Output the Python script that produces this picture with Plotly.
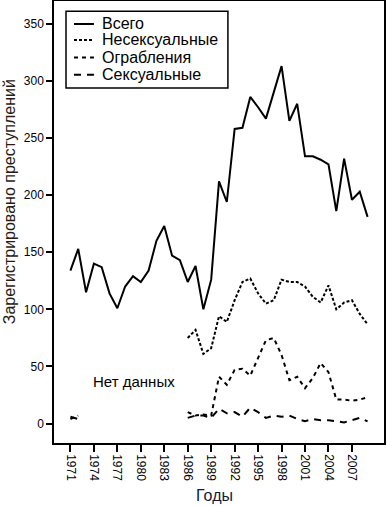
import plotly.graph_objects as go

years = list(range(1971, 2010))

total = [134, 153, 115, 140, 137, 114, 101, 120, 129, 124, 134, 160, 173,
         147, 143, 124, 138, 100, 126, 212, 194, 258, 259, 286, 277, 267,
         290, 313, 265, 280, 234, 234, 231, 227, 186, 232, 196, 203, 181]

N = None
nonsexual = [N] * 15 + [75, 82, 61, 66, 94, 89, 108, 124, 127, 114, 105, 108,
                        126, 124, 124, 120, 111, 106, 121, 100, 106, 108, 96, 87]

robbery = [4, 7] + [N] * 13 + [10, 7, 8, 7, 41, 34, 47, 48, 42, 57, 73, 75,
                               60, 38, 41, 31, 40, 53, 45, 21, 21, 20, 21, 23]

sexual = [6, 4] + [N] * 13 + [5, 7, 7, 5, 13, 9, 10, 6, 14, 10, 5, 7,
                              6, 7, 4, 2, 4, 3, 3, 2, 1, 3, 5, 2]

tick_years = list(range(1971, 2010, 3))
y_ticks = [0, 50, 100, 150, 200, 250, 300, 350]

series_names = ["Всего", "Несексуальные", "Ограбления", "Сексуальные"]
series_values = [total, nonsexual, robbery, sexual]
series_dash = ["solid", "3px,2px", "4px,4px", "7px,6px"]

fig = go.Figure()
for name, vals, dash in zip(series_names, series_values, series_dash):
    fig.add_trace(go.Scatter(
        x=years, y=vals, name=name, mode="lines",
        line=dict(color="black", width=2, dash=dash),
        connectgaps=False, showlegend=False,
    ))

font = "Liberation Sans, Arial, sans-serif"

# manual legend (box, line samples, labels) in paper coordinates
shapes = [dict(type="rect", xref="paper", yref="paper",
               x0=0.0364, x1=0.527, y0=0.803, y1=0.977,
               line=dict(color="black", width=1.5), fillcolor="white",
               layer="above")]
annotations = []
row_y = [0.948, 0.912, 0.872, 0.833]
for name, dash, ry in zip(series_names, series_dash, row_y):
    shapes.append(dict(type="line", xref="paper", yref="paper",
                       x0=0.0606, x1=0.121, y0=ry, y1=ry,
                       line=dict(color="black", width=2, dash=dash),
                       layer="above"))
    annotations.append(dict(text=name, xref="paper", yref="paper",
                            x=0.139, y=ry, xanchor="left", yanchor="middle",
                            showarrow=False,
                            font=dict(size=16, family=font, color="black")))

annotations += [
    dict(text="Зарегистрировано преступлений", textangle=-90,
         xref="paper", yref="paper", x=-0.136, y=0.545,
         xanchor="center", yanchor="middle", showarrow=False,
         font=dict(size=16, family=font, color="#2a1a10")),
    dict(text="Годы", xref="paper", yref="paper", x=0.485, y=-0.118,
         xanchor="center", yanchor="middle", showarrow=False,
         font=dict(size=16, family=font, color="#101a3a")),
    dict(text="Нет данных", xref="x", yref="y", x=1979.1, y=37,
         xanchor="center", yanchor="middle", showarrow=False,
         font=dict(size=15, family=font, color="black")),
]

fig.update_layout(
    width=387, height=506,
    margin=dict(l=54, r=3, t=1, b=63, autoexpand=False),
    paper_bgcolor="white", plot_bgcolor="white",
    font=dict(family=font, color="black", size=12),
    showlegend=False,
    xaxis=dict(
        range=[1968.9, 2011.1], tickvals=tick_years,
        ticktext=[str(y) for y in tick_years], tickangle=90,
        ticks="outside", ticklen=7, tickwidth=1.5, tickcolor="black",
        showline=True, linecolor="black", linewidth=1.5, mirror=True,
        showgrid=False, zeroline=False, tickfont=dict(size=12),
        automargin=False,
    ),
    yaxis=dict(
        range=[-17, 370], tickvals=y_ticks,
        ticks="outside", ticklen=6, tickwidth=1.5, tickcolor="black",
        showline=True, linecolor="black", linewidth=1.5, mirror=True,
        showgrid=False, zeroline=False, tickfont=dict(size=12),
        automargin=False,
    ),
    shapes=shapes,
    annotations=annotations,
)

fig.write_html("out.html", config={"displayModeBar": False},
               post_script="document.body.style.margin='0';")
